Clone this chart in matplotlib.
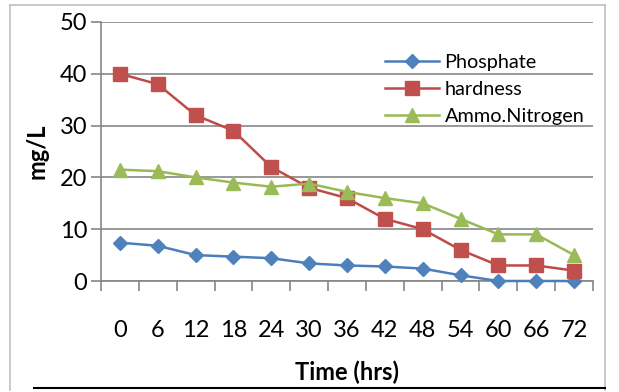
import matplotlib
matplotlib.use("Agg")
import matplotlib.pyplot as plt
from matplotlib.lines import Line2D
import numpy as np

plt.rcParams['font.family'] = ['Lato', 'DejaVu Sans']

hours = ["0", "6", "12", "18", "24", "30", "36", "42", "48", "54", "60", "66", "72"]
phosphate = [7.4, 6.8, 5.0, 4.7, 4.4, 3.4, 3.0, 2.8, 2.4, 1.1, 0, 0, 0]
hardness = [40, 38, 32, 29, 22, 18, 16, 12, 10, 6, 3, 3, 2]
ammo_nitrogen = [21.5, 21.2, 20, 19, 18.2, 18.8, 17.2, 16, 15, 12, 9, 9, 5]
y_ticks = [0, 10, 20, 30, 40, 50]

fig = plt.figure(figsize=(6.19, 3.92), dpi=100)
ax = fig.add_axes([101/619, 1-281/392, (593-101)/619, (281-22)/392])

x = np.arange(len(hours))
ax.plot(x, phosphate, color='#4A7EBB', lw=1.8, marker='D', ms=7,
        mfc='#4F81BD', mec='#4F81BD', label='Phosphate', zorder=3, clip_on=False)
ax.plot(x, hardness, color='#BE4B48', lw=1.8, marker='s', ms=10,
        mfc='#C0504D', mec='#C0504D', label='hardness', zorder=3, clip_on=False)
ax.plot(x, ammo_nitrogen, color='#98B954', lw=1.8, marker='^', ms=10,
        mfc='#9BBB59', mec='#9BBB59', label='Ammo.Nitrogen', zorder=3, clip_on=False)

ax.set_xlim(-0.5, len(hours) - 0.5)
ax.set_ylim(0, 50)
ax.set_yticks(y_ticks)
ax.set_yticklabels([str(v) for v in y_ticks], fontsize=17)
ax.yaxis.grid(True, color='#868686', lw=1.2)
ax.set_axisbelow(True)
ax.tick_params(axis='y', length=7, width=1.2, color='#868686', pad=3)

ax.set_xticks(x)
ax.set_xticklabels(hours, fontsize=17)
ax.tick_params(axis='x', length=0, pad=28)
ax.set_xticks(np.arange(-0.5, len(hours)), minor=True)
ax.tick_params(axis='x', which='minor', length=7, width=1.2, color='#868686')

for s in ['top', 'right']:
    ax.spines[s].set_visible(False)
for s in ['left', 'bottom']:
    ax.spines[s].set_color('#868686')
    ax.spines[s].set_linewidth(1.2)

ax.set_ylabel('mg/L', fontsize=17, fontweight='bold', labelpad=8)
ax.set_xlabel('Time (hrs)', fontsize=17, fontweight='bold', labelpad=14)

leg = ax.legend(loc='upper left', bbox_to_anchor=(377/619, 1-46/392),
                bbox_transform=fig.transFigure, frameon=False,
                fontsize=14.3, handlelength=2.7, handletextpad=0.3,
                labelspacing=0.5, borderaxespad=0)

# chart area border
W, H = 619, 392
def fl(x0, y0, x1, y1, c, lw):
    fig.add_artist(Line2D([x0/W, x1/W], [1-y0/H, 1-y1/H], color=c, lw=lw,
                          transform=fig.transFigure))
fl(10, 5, 605, 5, '#BFBFBF', 1.2)
fl(10, 5, 10, 390, '#BFBFBF', 1.2)
fl(605, 5, 605, 390, '#BFBFBF', 1.2)
fl(34, 388, 605, 388, '#000000', 1.5)

fig.savefig('out.png', dpi=100)
